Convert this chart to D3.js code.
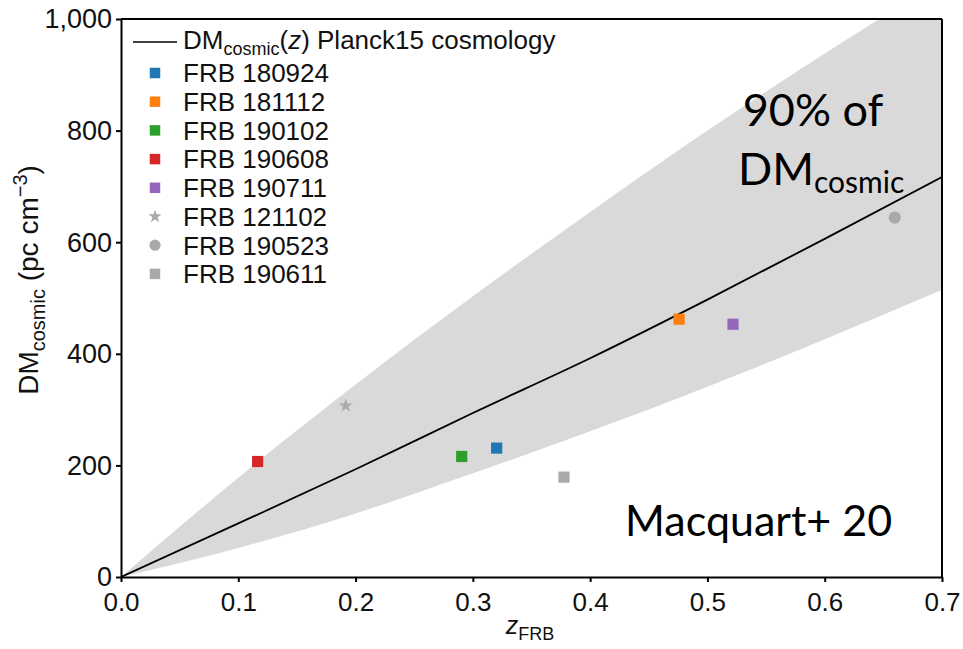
<!DOCTYPE html>
<html><head><meta charset="utf-8">
<script src="https://cdn.jsdelivr.net/npm/d3@7"></script>
<style>
html,body{margin:0;padding:0;background:#fff;}
svg{display:block;}
text{font-family:"Liberation Sans",Arial,sans-serif;fill:#111;}
.anno{font-family:Lato,"Open Sans",sans-serif;fill:#000;}
</style></head>
<body>
<svg id="chart" width="963" height="649"></svg>
<script>
// ---- data ----
const zGrid   = [0, 0.1, 0.2, 0.3, 0.4, 0.5, 0.6, 0.7];
const dmMean  = [0, 96, 193, 294, 392, 497, 606, 717];
const dmUpper = [0, 178, 345, 503, 654, 800, 938, 1070];
const dmLower = [0, 52, 114, 186, 261, 341, 426, 515];

const frbNames   = ["FRB 180924","FRB 181112","FRB 190102","FRB 190608","FRB 190711","FRB 121102","FRB 190523","FRB 190611"];
const frbZ       = [0.3203, 0.4758, 0.2905, 0.1165, 0.5218, 0.1916, 0.6597, 0.3777];
const frbDM      = [231, 462, 216, 207, 453, 307, 644, 179];
const frbColors  = ["#1f77b4","#ff7f0e","#2ca02c","#d62728","#9467bd","#a9a9a9","#a9a9a9","#a9a9a9"];
const frbSymbols = ["square","square","square","square","square","star","circle","square"];

const xTicks = [0,0.1,0.2,0.3,0.4,0.5,0.6,0.7];
const yTicks = [0,200,400,600,800,1000];

// ---- layout ----
const svg = d3.select("#chart");
const L = 121, R = 942, T = 19, B = 577;
const x = d3.scaleLinear().domain([0,0.7]).range([L,R]);
const y = d3.scaleLinear().domain([0,1000]).range([B,T]);

svg.append("defs").append("clipPath").attr("id","clip")
  .append("rect").attr("x",L).attr("y",T).attr("width",R-L).attr("height",B-T);

const g = svg.append("g").attr("clip-path","url(#clip)");

// band
const bandData = zGrid.map((z,i)=>({z, lo: dmLower[i], hi: dmUpper[i]}));
g.append("path").datum(bandData)
  .attr("fill","#d9d9d9")
  .attr("d", d3.area().x(d=>x(d.z)).y0(d=>y(d.lo)).y1(d=>y(d.hi)).curve(d3.curveMonotoneX));

// mean line
const lineData = zGrid.map((z,i)=>({z, dm: dmMean[i]}));
g.append("path").datum(lineData)
  .attr("fill","none").attr("stroke","#000").attr("stroke-width",1.8)
  .attr("d", d3.line().x(d=>x(d.z)).y(d=>y(d.dm)).curve(d3.curveMonotoneX));

// points
const symMap = {square: d3.symbolSquare, star: d3.symbolStar, circle: d3.symbolCircle};
const symSize = {square: 125, star: 60, circle: 115};
g.selectAll(".pt").data(frbNames.map((n,i)=>({n, z: frbZ[i], dm: frbDM[i], c: frbColors[i], s: frbSymbols[i]})))
  .enter().append("path")
  .attr("transform", d=>`translate(${x(d.z)},${y(d.dm)})`)
  .attr("d", d=>d3.symbol().type(symMap[d.s]).size(symSize[d.s])())
  .attr("fill", d=>d.c);

// axes
const ax = svg.append("g");
const xAxis = d3.axisBottom(x).tickValues(xTicks).tickFormat(d3.format(".1f")).tickSize(5).tickSizeOuter(0);
const yAxis = d3.axisLeft(y).tickValues(yTicks).tickFormat(d3.format(",")).tickSize(5).tickSizeOuter(0);
const gx = ax.append("g").attr("transform",`translate(0,${B})`).call(xAxis);
const gy = ax.append("g").attr("transform",`translate(${L},0)`).call(yAxis);
[gx,gy].forEach(a=>{
  a.select(".domain").attr("stroke","#000").attr("stroke-width",2);
  a.selectAll(".tick line").attr("stroke","#000").attr("stroke-width",2);
  a.selectAll(".tick text").attr("fill","#111")
    .attr("font-family",'"Liberation Sans",Arial,sans-serif');
});
gx.selectAll(".tick text").attr("font-size",26).attr("dy","0.95em").attr("y",9);
gy.selectAll(".tick text").attr("font-size",27).attr("x",-9).attr("dy","0.33em");
// frame top and right
svg.append("line").attr("x1",L).attr("x2",R).attr("y1",T).attr("y2",T).attr("stroke","#000").attr("stroke-width",2);
svg.append("line").attr("x1",R).attr("x2",R).attr("y1",T).attr("y2",B).attr("stroke","#000").attr("stroke-width",2);

// axis titles
const yl = svg.append("text").attr("transform","translate(38,280) rotate(-90)")
  .attr("text-anchor","middle").attr("font-size",28);
yl.append("tspan").text("DM");
yl.append("tspan").attr("font-size",20).attr("dy",7).text("cosmic");
yl.append("tspan").attr("dy",-7).text(" (pc cm");
yl.append("tspan").attr("font-size",20).attr("dy",-11).text("−3");
yl.append("tspan").attr("dy",11).text(")");

const xl = svg.append("text").attr("x",530).attr("y",634).attr("text-anchor","middle").attr("font-size",25);
xl.append("tspan").attr("font-style","italic").text("z");
xl.append("tspan").attr("font-size",18).attr("dy",6).text("FRB");

// legend
const lg = svg.append("g");
lg.append("line").attr("x1",133).attr("x2",177).attr("y1",42).attr("y2",42).attr("stroke","#000").attr("stroke-width",1.5);
const lh = lg.append("text").attr("x",183).attr("y",49).attr("font-size",26);
lh.append("tspan").text("DM");
lh.append("tspan").attr("font-size",18).attr("dy",6).text("cosmic");
lh.append("tspan").attr("dy",-6).text("(");
lh.append("tspan").attr("font-style","italic").text("z");
lh.append("tspan").text(") Planck15 cosmology");

const rowY = i => 73 + i*28.7;
frbNames.forEach((n,i)=>{
  const s = frbSymbols[i];
  lg.append("path").attr("transform",`translate(155,${rowY(i)})`)
    .attr("d", d3.symbol().type(symMap[s]).size(s==="square"?110:(s==="star"?55:100))())
    .attr("fill", frbColors[i]);
  lg.append("text").attr("x",183).attr("y",rowY(i)).attr("dy","0.36em").attr("font-size",26).text(n);
});

// annotations
svg.append("text").attr("class","anno").attr("x",813).attr("y",126).attr("text-anchor","middle")
  .attr("font-size",45).text("90% of");
const dmA = svg.append("text").attr("class","anno").attr("x",738).attr("y",185).attr("font-size",45);
dmA.append("tspan").text("DM");
dmA.append("tspan").attr("font-size",30).attr("dy",8).text("cosmic");
svg.append("text").attr("class","anno").attr("x",625).attr("y",536).attr("font-size",43).text("Macquart+ 20");
</script>
</body></html>
